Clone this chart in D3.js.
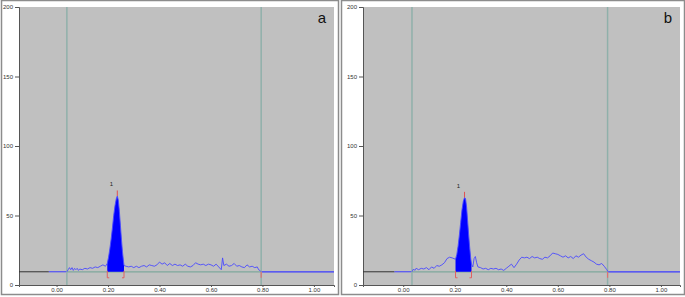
<!DOCTYPE html>
<html>
<head>
<meta charset="utf-8">
<script src="https://d3js.org/d3.v7.min.js"></script>
<style>
  body { margin: 0; background: #fff; font-family: "Liberation Sans", Arial, sans-serif; }
</style>
</head>
<body>
<div id="chart"></div>
<script>
// Densitometric scans (Rf vs. AU), two tracks
var yTicks = [0, 50, 100, 150, 200];
var xTicks = [0, 0.2, 0.4, 0.6, 0.8, 1.0];
var baseLevel = 9.5;

// track a: [Rf, AU]
var scanA = [
  [0.04, 9.5], [0.045, 11], [0.05, 12.5], [0.055, 11], [0.06, 12.5], [0.065, 10.5], [0.07, 12],
  [0.075, 11], [0.08, 12], [0.085, 10.5], [0.09, 11.5], [0.10, 11], [0.11, 12], [0.12, 11.5],
  [0.13, 12.5], [0.14, 12], [0.15, 13], [0.16, 12.5], [0.17, 13.5], [0.18, 14.5], [0.19, 13.5],
  [0.197, 15.5], [0.202, 20], [0.207, 26], [0.212, 33], [0.217, 41], [0.222, 50], [0.227, 57],
  [0.232, 62], [0.236, 64], [0.24, 61], [0.244, 53], [0.248, 43], [0.252, 33], [0.256, 24],
  [0.26, 17], [0.262, 14], [0.27, 13.5], [0.28, 13], [0.29, 13.5], [0.30, 12.5], [0.31, 13.5], [0.32, 12.5],
  [0.33, 13.5], [0.34, 14], [0.35, 13], [0.36, 14.5], [0.37, 14], [0.38, 13.5], [0.39, 14.5],
  [0.40, 16.5], [0.41, 15], [0.42, 16], [0.43, 14], [0.44, 15.5], [0.45, 14], [0.46, 15],
  [0.47, 14], [0.48, 14.5], [0.49, 13.5], [0.50, 15], [0.51, 13.5], [0.52, 13], [0.53, 14],
  [0.54, 16], [0.55, 15], [0.56, 14.5], [0.57, 15], [0.58, 14], [0.59, 15], [0.60, 14.5],
  [0.61, 13.5], [0.62, 15], [0.63, 13], [0.64, 11], [0.645, 19.5], [0.65, 14], [0.66, 15],
  [0.67, 13.5], [0.68, 14], [0.69, 15.5], [0.70, 13.5], [0.71, 14], [0.72, 13], [0.73, 12.5],
  [0.74, 14.5], [0.75, 13], [0.76, 13.5], [0.77, 12.5], [0.78, 13], [0.785, 11], [0.79, 10.5],
  [0.795, 9.5]
];

// track b: [Rf, AU]
var scanB = [
  [0.034, 9.5], [0.04, 11.5], [0.045, 10.5], [0.05, 12], [0.06, 11], [0.07, 12], [0.08, 11.5],
  [0.09, 12.5], [0.10, 11], [0.11, 13], [0.12, 12], [0.13, 14], [0.14, 13.5], [0.15, 14.5],
  [0.16, 16], [0.17, 19], [0.18, 20], [0.19, 19.5], [0.203, 18.5], [0.208, 22], [0.213, 28],
  [0.218, 36], [0.223, 45], [0.228, 54], [0.233, 60], [0.238, 63], [0.242, 62], [0.246, 56],
  [0.25, 46], [0.254, 36], [0.258, 27], [0.262, 19], [0.265, 15], [0.27, 13], [0.275, 19],
  [0.28, 20.5], [0.285, 16], [0.29, 13], [0.30, 12.5], [0.31, 11.5], [0.32, 12], [0.33, 11],
  [0.34, 12], [0.35, 11.5], [0.36, 12], [0.37, 11], [0.38, 11.5], [0.39, 10.5], [0.40, 12],
  [0.41, 13.5], [0.42, 15], [0.43, 12.5], [0.44, 15], [0.45, 18], [0.46, 20], [0.47, 19.5],
  [0.48, 20], [0.49, 19], [0.50, 20.5], [0.51, 19.5], [0.52, 20], [0.53, 19], [0.54, 18.5],
  [0.55, 20], [0.56, 19.5], [0.57, 21], [0.58, 23], [0.59, 22.5], [0.60, 22], [0.61, 21],
  [0.62, 20], [0.63, 21], [0.64, 19.5], [0.65, 20.5], [0.66, 19], [0.67, 21], [0.68, 20],
  [0.69, 21.5], [0.70, 22.5], [0.71, 20], [0.72, 18.5], [0.73, 17.5], [0.74, 16.5], [0.75, 15],
  [0.76, 14.5], [0.77, 15.5], [0.78, 13.5], [0.79, 11], [0.795, 9.5]
];

var panels = [
  { name: "a", data: scanA, start: 0.04, end: 0.795, peak: [0.197, 0.262], top: 0.236, darkEnd: -0.03,
    xRange: [19, 334], xDomain: [-0.146, 1.078], frame: [1, 338] },
  { name: "b", data: scanB, start: 0.034, end: 0.793, peak: [0.203, 0.265], top: 0.238, darkEnd: -0.034,
    xRange: [363, 680], xDomain: [-0.156, 1.074], frame: [341, 684] }
];

var width = 685, height = 297;
var svg = d3.select("#chart").append("svg")
  .attr("width", width).attr("height", height);

svg.append("rect").attr("x", 0).attr("y", 0).attr("width", width).attr("height", height).attr("fill", "#fff");

var y = d3.scaleLinear().domain([0, 200]).range([285, 7]);

panels.forEach(function(p) {
  var x = d3.scaleLinear().domain(p.xDomain).range(p.xRange);
  var g = svg.append("g");

  // panel frame
  g.append("rect")
    .attr("x", p.frame[0] + 0.5).attr("y", 0.5)
    .attr("width", p.frame[1] - p.frame[0]).attr("height", 294)
    .attr("fill", "none").attr("stroke", "#8c8c8c").attr("stroke-width", 1.5);

  // plot background
  g.append("rect")
    .attr("x", p.xRange[0]).attr("y", 7)
    .attr("width", p.xRange[1] - p.xRange[0]).attr("height", 278)
    .attr("fill", "#c0c0c0");

  // axes
  var yAxis = g.append("g").attr("transform", "translate(" + p.xRange[0] + ",0)")
    .call(d3.axisLeft(y).tickValues(yTicks).tickSize(4).tickPadding(2));
  var xAxis = g.append("g").attr("transform", "translate(0,285)")
    .call(d3.axisBottom(x).tickValues(xTicks).tickSize(2).tickPadding(1).tickFormat(d3.format(".2f")));
  [yAxis, xAxis].forEach(function(ax) {
    ax.select(".domain").attr("stroke", "#555");
    ax.selectAll(".tick line").attr("stroke", "#555");
    ax.selectAll("text").attr("fill", "#333").style("font-size", "6px")
      .style("font-family", "Liberation Sans, Arial, sans-serif");
  });

  // horizontal baseline pieces
  var by = y(baseLevel);
  g.append("line").attr("x1", p.xRange[0]).attr("x2", x(p.darkEnd)).attr("y1", by).attr("y2", by)
    .attr("stroke", "#333").attr("stroke-width", 1);
  g.append("line").attr("x1", x(p.darkEnd)).attr("x2", x(p.start)).attr("y1", by).attr("y2", by)
    .attr("stroke", "#3a3aff").attr("stroke-width", 1);
  g.append("line").attr("x1", x(p.end)).attr("x2", p.xRange[1]).attr("y1", by).attr("y2", by)
    .attr("stroke", "#3a3aff").attr("stroke-width", 1.2);
  g.append("line").attr("x1", x(p.start)).attr("x2", x(p.end)).attr("y1", by).attr("y2", by)
    .attr("stroke", "#7fa89c").attr("stroke-width", 1.2);

  // start/end vertical lines
  [p.start, p.end].forEach(function(v) {
    g.append("line").attr("x1", x(v)).attr("x2", x(v)).attr("y1", 7).attr("y2", 285)
      .attr("stroke", "#8fb0aa").attr("stroke-width", 1.5);
  });
  g.append("line").attr("x1", x(p.end)).attr("x2", x(p.end)).attr("y1", by).attr("y2", by + 6)
    .attr("stroke", "#e07070").attr("stroke-width", 1.2);

  // filled peak area
  var peakPts = p.data.filter(function(d) { return d[0] >= p.peak[0] && d[0] <= p.peak[1]; });
  g.append("path").datum(peakPts)
    .attr("d", d3.area().x(function(d) { return x(d[0]); }).y0(by).y1(function(d) { return y(d[1]); }))
    .attr("fill", "#0000ff");

  // scan line
  g.append("path").datum(p.data)
    .attr("d", d3.line().x(function(d) { return x(d[0]); }).y(function(d) { return y(d[1]); }))
    .attr("fill", "none").attr("stroke", "#4a4aff").attr("stroke-width", 0.9);

  // peak markers
  var topVal = d3.max(peakPts, function(d) { return d[1]; });
  g.append("line").attr("x1", x(p.top)).attr("x2", x(p.top)).attr("y1", y(topVal)).attr("y2", y(topVal + 4))
    .attr("stroke", "#e05050").attr("stroke-width", 1);
  p.peak.forEach(function(v, i) {
    var px = x(v);
    var dir = i === 0 ? 1 : -1;
    g.append("path")
      .attr("d", "M" + px + "," + (by - 1) + "V" + (by + 6) + "h" + (dir * 2))
      .attr("fill", "none").attr("stroke", "#e06060").attr("stroke-width", 1);
  });
  g.append("text").attr("x", x(p.top) - 6).attr("y", y(topVal + 7))
    .attr("text-anchor", "middle").style("font-size", "6px").attr("fill", "#222")
    .text("1");

  // panel letter
  g.append("text").attr("x", p.xRange[1] - 12).attr("y", 23)
    .attr("text-anchor", "middle").style("font-size", "15px").attr("fill", "#111")
    .text(p.name);
});
</script>
</body>
</html>
